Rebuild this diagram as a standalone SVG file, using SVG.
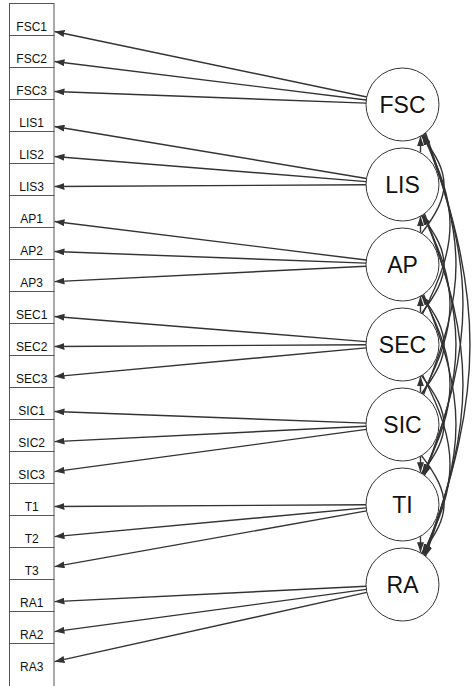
<svg xmlns="http://www.w3.org/2000/svg" width="472" height="686" viewBox="0 0 472 686">
<style>
.box{fill:#fff;stroke:#555;stroke-width:1}
.lbl{font-family:"Liberation Sans",Arial,sans-serif;font-size:12px;fill:#111;text-anchor:middle}
.lat{fill:#fff;stroke:#333;stroke-width:1}
.llbl{font-family:"Liberation Sans",Arial,sans-serif;font-size:23px;fill:#111;text-anchor:middle}
.e{fill:none;stroke:#333;stroke-width:1.4;marker-end:url(#ah)}
.cs{fill:none;stroke:#333;stroke-width:1.4;marker-start:url(#ah)}
</style>
<defs>
<marker id="ah" viewBox="0 0 10 7" refX="10" refY="3.5" markerWidth="10" markerHeight="7" markerUnits="userSpaceOnUse" orient="auto-start-reverse"><path d="M0,0L10,3.5L0,7z" fill="#333"/></marker>
</defs>
<rect width="472" height="686" fill="#fff"/>
<g id="connectors">
<path class="e" d="M366.78,97.00L54.5,31.48"/>
<path class="e" d="M366.28,100.03L54.5,61.52"/>
<path class="e" d="M366.03,103.14L54.5,91.55"/>
<path class="e" d="M366.50,178.50L54.5,126.50"/>
<path class="e" d="M366.12,181.58L54.5,156.53"/>
<path class="e" d="M366.00,184.72L54.5,186.56"/>
<path class="e" d="M366.28,260.03L54.5,221.52"/>
<path class="e" d="M366.03,263.14L54.5,251.55"/>
<path class="e" d="M366.04,266.29L54.5,281.58"/>
<path class="e" d="M366.12,341.58L54.5,316.53"/>
<path class="e" d="M366.00,344.72L54.5,346.56"/>
<path class="e" d="M366.15,347.85L54.5,376.60"/>
<path class="e" d="M366.03,423.14L54.5,411.55"/>
<path class="e" d="M366.04,426.29L54.5,441.58"/>
<path class="e" d="M366.33,429.40L54.5,471.61"/>
<path class="e" d="M366.00,504.72L54.5,506.56"/>
<path class="e" d="M366.15,507.85L54.5,536.60"/>
<path class="e" d="M366.57,510.91L54.5,566.63"/>
<path class="e" d="M366.04,586.29L54.5,601.58"/>
<path class="e" d="M366.33,589.40L54.5,631.61"/>
<path class="e" d="M366.87,592.40L54.5,661.65"/>
<!-- span 1 -->
<path class="cs" d="M420.5,136.25L420.5,152.25"/>
<path class="cs" d="M420.5,216.25L420.5,232.25"/>
<path class="cs" d="M420.5,296.25L420.5,312.25"/>
<path class="cs" d="M420.5,376.25L420.5,392.25"/>
<path class="e" d="M420.5,456.25L420.5,472.25"/>
<path class="e" d="M420.5,536.25L420.5,552.25"/>
<!-- span 2 -->
<path class="cs" d="M421.5,135.66C451.5,174.73 451.5,194.27 421.5,233.34"/>
<path class="cs" d="M421.5,215.66C451.5,254.73 451.5,274.27 421.5,313.34"/>
<path class="cs" d="M421.5,295.66C451.5,334.73 451.5,354.27 421.5,393.34"/>
<path class="e" d="M421.5,375.66C451.5,414.73 451.5,434.27 421.5,473.34"/>
<path class="e" d="M421.5,455.66C451.5,494.73 451.5,514.27 421.5,553.34"/>
<!-- span 3 -->
<path class="cs" d="M422.5,135.03C459.2,206.61 459.2,242.39 422.5,313.97"/>
<path class="cs" d="M422.5,215.03C459.2,286.61 459.2,322.39 422.5,393.97"/>
<path class="e" d="M422.5,295.03C459.2,366.61 459.2,402.39 422.5,473.97"/>
<path class="e" d="M422.5,375.03C459.2,446.61 459.2,482.39 422.5,553.97"/>
<!-- span 4 -->
<path class="cs" d="M423.5,134.35C466.8,238.47 466.8,290.53 423.5,394.65"/>
<path class="e" d="M423.5,214.35C466.8,318.47 466.8,370.53 423.5,474.65"/>
<path class="e" d="M423.5,294.35C466.8,398.47 466.8,450.53 423.5,554.65"/>
<!-- span 5 -->
<path class="e" d="M424.5,133.62C475.8,270.32 475.8,338.68 424.5,475.38"/>
<path class="e" d="M424.5,213.62C475.8,350.32 475.8,418.68 424.5,555.38"/>
<!-- span 6 -->
<path class="e" d="M425.5,132.84C484.8,302.17 484.8,386.83 425.5,556.16"/>
</g>
<g id="FSC1"><rect class="box" x="9.5" y="3.5" width="44.5" height="32"/><text class="lbl" x="31.7" y="30.8">FSC1</text></g>
<g id="FSC2"><rect class="box" x="9.5" y="35.5" width="44.5" height="32"/><text class="lbl" x="31.7" y="62.8">FSC2</text></g>
<g id="FSC3"><rect class="box" x="9.5" y="67.5" width="44.5" height="32"/><text class="lbl" x="31.7" y="94.8">FSC3</text></g>
<g id="LIS1"><rect class="box" x="9.5" y="99.5" width="44.5" height="32"/><text class="lbl" x="31.7" y="126.8">LIS1</text></g>
<g id="LIS2"><rect class="box" x="9.5" y="131.5" width="44.5" height="32"/><text class="lbl" x="31.7" y="158.8">LIS2</text></g>
<g id="LIS3"><rect class="box" x="9.5" y="163.5" width="44.5" height="32"/><text class="lbl" x="31.7" y="190.8">LIS3</text></g>
<g id="AP1"><rect class="box" x="9.5" y="195.5" width="44.5" height="32"/><text class="lbl" x="31.7" y="222.8">AP1</text></g>
<g id="AP2"><rect class="box" x="9.5" y="227.5" width="44.5" height="32"/><text class="lbl" x="31.7" y="254.8">AP2</text></g>
<g id="AP3"><rect class="box" x="9.5" y="259.5" width="44.5" height="32"/><text class="lbl" x="31.7" y="286.8">AP3</text></g>
<g id="SEC1"><rect class="box" x="9.5" y="291.5" width="44.5" height="32"/><text class="lbl" x="31.7" y="318.8">SEC1</text></g>
<g id="SEC2"><rect class="box" x="9.5" y="323.5" width="44.5" height="32"/><text class="lbl" x="31.7" y="350.8">SEC2</text></g>
<g id="SEC3"><rect class="box" x="9.5" y="355.5" width="44.5" height="32"/><text class="lbl" x="31.7" y="382.8">SEC3</text></g>
<g id="SIC1"><rect class="box" x="9.5" y="387.5" width="44.5" height="32"/><text class="lbl" x="31.7" y="414.8">SIC1</text></g>
<g id="SIC2"><rect class="box" x="9.5" y="419.5" width="44.5" height="32"/><text class="lbl" x="31.7" y="446.8">SIC2</text></g>
<g id="SIC3"><rect class="box" x="9.5" y="451.5" width="44.5" height="32"/><text class="lbl" x="31.7" y="478.8">SIC3</text></g>
<g id="T1"><rect class="box" x="9.5" y="483.5" width="44.5" height="32"/><text class="lbl" x="31.7" y="510.8">T1</text></g>
<g id="T2"><rect class="box" x="9.5" y="515.5" width="44.5" height="32"/><text class="lbl" x="31.7" y="542.8">T2</text></g>
<g id="T3"><rect class="box" x="9.5" y="547.5" width="44.5" height="32"/><text class="lbl" x="31.7" y="574.8">T3</text></g>
<g id="RA1"><rect class="box" x="9.5" y="579.5" width="44.5" height="32"/><text class="lbl" x="31.7" y="606.8">RA1</text></g>
<g id="RA2"><rect class="box" x="9.5" y="611.5" width="44.5" height="32"/><text class="lbl" x="31.7" y="638.8">RA2</text></g>
<g id="RA3"><rect class="box" x="9.5" y="643.5" width="44.5" height="60"/><text class="lbl" x="31.7" y="670.8">RA3</text></g>
<g id="FSC"><circle class="lat" cx="402.5" cy="104.5" r="36.5"/><text class="llbl" x="402.5" y="112.8">FSC</text></g>
<g id="LIS"><circle class="lat" cx="402.5" cy="184.5" r="36.5"/><text class="llbl" x="402.5" y="192.8">LIS</text></g>
<g id="AP"><circle class="lat" cx="402.5" cy="264.5" r="36.5"/><text class="llbl" x="402.5" y="272.8">AP</text></g>
<g id="SEC"><circle class="lat" cx="402.5" cy="344.5" r="36.5"/><text class="llbl" x="402.5" y="352.8">SEC</text></g>
<g id="SIC"><circle class="lat" cx="402.5" cy="424.5" r="36.5"/><text class="llbl" x="402.5" y="432.8">SIC</text></g>
<g id="TI"><circle class="lat" cx="402.5" cy="504.5" r="36.5"/><text class="llbl" x="402.5" y="512.8">TI</text></g>
<g id="RA"><circle class="lat" cx="402.5" cy="584.5" r="36.5"/><text class="llbl" x="402.5" y="592.8">RA</text></g>
</svg>
